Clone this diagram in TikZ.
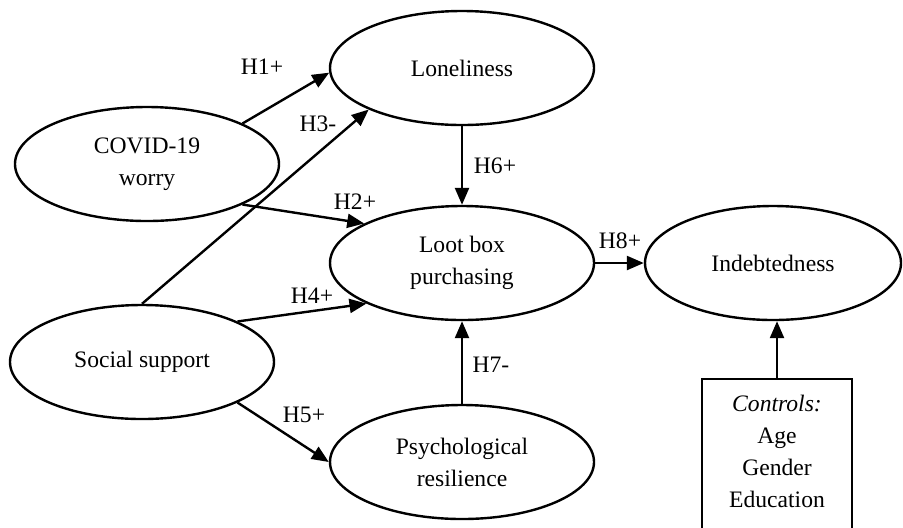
\documentclass[tikz,border=0pt]{standalone}
\usepackage{fontspec}
\setmainfont{Liberation Serif}
\usetikzlibrary{shapes.geometric,arrows.meta}
\begin{document}
\begin{tikzpicture}[x=0.5pt,y=-0.5pt,
  every node/.style={font=\fontsize{11.8}{16}\selectfont},
  construct/.style={draw,ellipse,line width=1.2pt,minimum width=132pt,minimum height=57pt,inner sep=0pt,align=center},
  hyp/.style={line width=1.2pt,-{Triangle[length=8.5pt,width=7pt]}},
  lab/.style={inner sep=0pt}]
\useasboundingbox (0,0) rectangle (903,527);
\node[construct] (lone) at (462,68) {Loneliness};
\node[construct] (covid) at (147,164) {COVID-19\\worry};
\node[construct] (loot) at (462,263) {Loot box\\purchasing};
\node[construct,minimum width=128pt] (ind) at (773,263) {Indebtedness};
\node[construct] (soc) at (142,362) {Social support};
\node[construct] (psy) at (462,462) {Psychological\\resilience};
\node[draw,line width=1.2pt,minimum width=75pt,minimum height=100pt,anchor=north,inner sep=0pt] (ctrl) at (777,378) {};
\node[align=center,inner sep=0pt] (ctrltext) at (777,451) {\textit{Controls:}\\Age\\Gender\\Education};

\draw[hyp] (covid.23) -- (lone.182);
\draw[hyp] (soc.north) -- (lone.204);
\draw[hyp] (covid.-23) -- (loot.158);
\draw[hyp] (soc.23) -- (loot.203);
\draw[hyp] (soc.-23) -- (psy.west);
\draw[hyp] (lone.south) -- (loot.north);
\draw[hyp] (psy.north) -- (loot.south);
\draw[hyp] (loot.east) -- (ind.west);
\draw[hyp] (ctrl.north) -- (ctrl.north |- ind.south);

\node[lab] (h1) at (262,67) {H1+};
\node[lab] (h3) at (318,124) {H3-};
\node[lab] (h2) at (355,202) {H2+};
\node[lab] (h4) at (312,296) {H4+};
\node[lab] (h5) at (304,415) {H5+};
\node[lab] (h6) at (495,166) {H6+};
\node[lab] (h7) at (491,365) {H7-};
\node[lab] (h8) at (620,241) {H8+};
\end{tikzpicture}
\end{document}
